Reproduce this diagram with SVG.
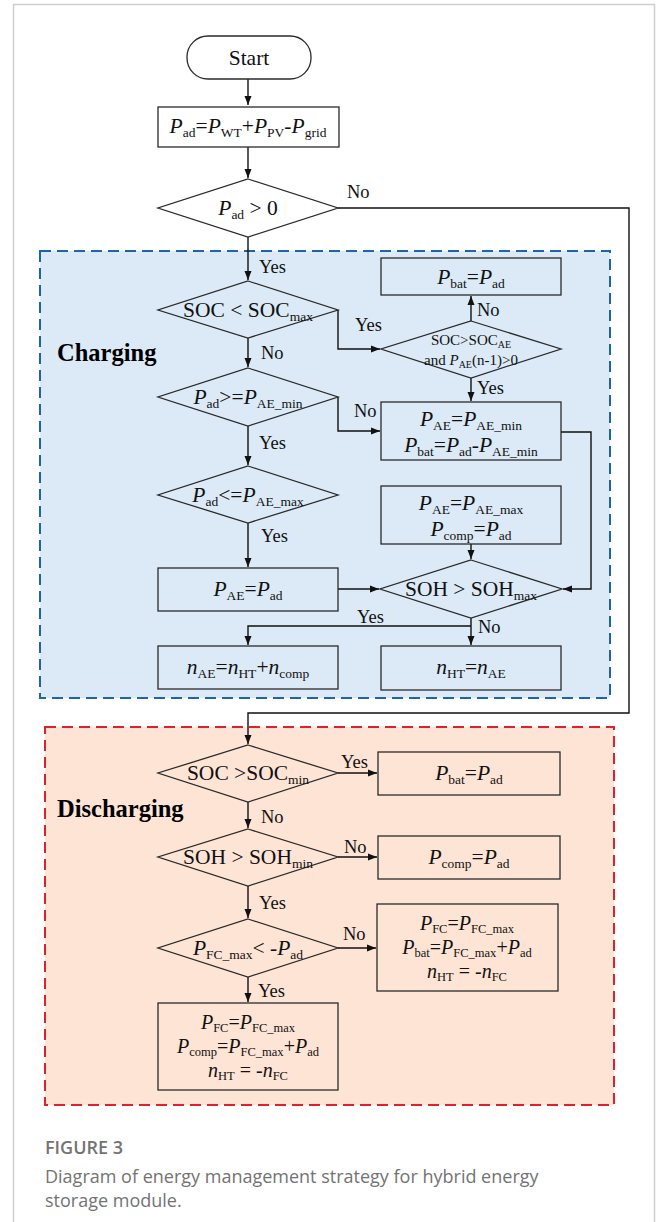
<svg xmlns="http://www.w3.org/2000/svg" width="656" height="1222" viewBox="0 0 656 1222">
<defs>
<style>
.n{fill:none;stroke:#2a2a2a;stroke-width:1.3}
.c{fill:none;stroke:#111;stroke-width:1.4}
.m{font-family:"Liberation Serif","Times New Roman",serif;font-size:21.5px;fill:#111;text-anchor:middle}
.m3{font-family:"Liberation Serif","Times New Roman",serif;font-size:20px;fill:#111;text-anchor:middle}
.sm{font-family:"Liberation Serif","Times New Roman",serif;font-size:15px;fill:#111;text-anchor:middle}
.lb{font-family:"Liberation Serif","Times New Roman",serif;font-size:18.5px;fill:#111}
.i{font-style:italic}
.s{font-size:13.5px}
.s3{font-size:12.5px}
.ss{font-size:10px}
.h{font-family:"Liberation Serif","Times New Roman",serif;font-size:24.5px;font-weight:bold;fill:#000}
.cap{font-family:"Open Sans","Noto Sans",sans-serif;fill:#737373}
</style>
<marker id="a" markerWidth="10" markerHeight="8" refX="9" refY="4" orient="auto" markerUnits="userSpaceOnUse">
<path d="M0,0.5 L9,4 L0,7.5 Z" fill="#111"/>
</marker>
</defs>
<rect x="0" y="0" width="656" height="1222" fill="#fff"/>
<rect x="13.5" y="4.5" width="641" height="1230" fill="none" stroke="#cfcfcf" stroke-width="1.5"/>

<g id="region-charging">
<rect x="40" y="251" width="570" height="447" fill="#dbeaf6" stroke="#1f63a8" stroke-width="2" stroke-dasharray="11,6"/>
<text class="h" x="57" y="361">Charging</text>
</g>
<g id="region-discharging">
<rect x="45" y="727" width="569" height="378" fill="#fde4d5" stroke="#e0202a" stroke-width="2" stroke-dasharray="11,6"/>
<text class="h" x="57" y="817">Discharging</text>
</g>

<g id="connectors">
<path class="c" d="M248,79 V105" marker-end="url(#a)"/>
<path class="c" d="M248,147 V178" marker-end="url(#a)"/>
<path class="c" d="M248,237 V280" marker-end="url(#a)"/>
<path class="c" d="M338,208 H629 V713 H248 V744" marker-end="url(#a)"/>
<path class="c" d="M338,310 V349 H380" marker-end="url(#a)"/>
<path class="c" d="M248,338 V367" marker-end="url(#a)"/>
<path class="c" d="M471,321 V296" marker-end="url(#a)"/>
<path class="c" d="M471,378 V401" marker-end="url(#a)"/>
<path class="c" d="M338,397 V431 H380" marker-end="url(#a)"/>
<path class="c" d="M248,426 V465" marker-end="url(#a)"/>
<path class="c" d="M561,432 H591 V589 H563" marker-end="url(#a)"/>
<path class="c" d="M248,523 V567" marker-end="url(#a)"/>
<path class="c" d="M338,589 H379" marker-end="url(#a)"/>
<path class="c" d="M471,544 V559" marker-end="url(#a)"/>
<path class="c" d="M471,618 V645" marker-end="url(#a)"/>
<path class="c" d="M471,626 H248 V645" marker-end="url(#a)"/>
<path class="c" d="M338,773 H377" marker-end="url(#a)"/>
<path class="c" d="M248,802 V828" marker-end="url(#a)"/>
<path class="c" d="M338,857 H377" marker-end="url(#a)"/>
<path class="c" d="M248,886 V918" marker-end="url(#a)"/>
<path class="c" d="M338,948 H376" marker-end="url(#a)"/>
<path class="c" d="M248,977 V1002" marker-end="url(#a)"/>
<text class="lb" x="347" y="198">No</text>
<text class="lb" x="259" y="273">Yes</text>
<text class="lb" x="355" y="331">Yes</text>
<text class="lb" x="261" y="359">No</text>
<text class="lb" x="477" y="316">No</text>
<text class="lb" x="477" y="394">Yes</text>
<text class="lb" x="354" y="417">No</text>
<text class="lb" x="259" y="449">Yes</text>
<text class="lb" x="261" y="542">Yes</text>
<text class="lb" x="357" y="623">Yes</text>
<text class="lb" x="478" y="633">No</text>
<text class="lb" x="341" y="768">Yes</text>
<text class="lb" x="261" y="823">No</text>
<text class="lb" x="344" y="853">No</text>
<text class="lb" x="259" y="909">Yes</text>
<text class="lb" x="343" y="940">No</text>
<text class="lb" x="258" y="997">Yes</text>
</g>

<g id="start">
<rect class="n" x="187" y="36" width="124" height="43" rx="21" ry="21"/>
<text class="m" x="249" y="65">Start</text>
</g>
<g id="calc-pad">
<rect class="n" x="158" y="107" width="181" height="40"/>
<text class="m" x="248" y="133"><tspan class="i">P</tspan><tspan class="s" dy="4">ad</tspan><tspan dy="-4">=</tspan><tspan class="i">P</tspan><tspan class="s" dy="4">WT</tspan><tspan dy="-4">+</tspan><tspan class="i">P</tspan><tspan class="s" dy="4">PV</tspan><tspan dy="-4">-</tspan><tspan class="i">P</tspan><tspan class="s" dy="4">grid</tspan></text>
</g>
<g id="dec-pad">
<path class="n" d="M248,179 L338,208 L248,237 L158,208 Z"/>
<text class="m" x="248" y="215"><tspan class="i">P</tspan><tspan class="s" dy="4">ad</tspan><tspan dy="-4"> &gt; 0</tspan></text>
</g>
<g id="dec-soc-max">
<path class="n" d="M248,281 L338,310 L248,338 L158,310 Z"/>
<text class="m" x="248" y="317">SOC &lt; SOC<tspan class="s" dy="4">max</tspan></text>
</g>
<g id="box-pbat1">
<rect class="n" x="381" y="258" width="180" height="37"/>
<text class="m" x="471" y="284"><tspan class="i">P</tspan><tspan class="s" dy="4">bat</tspan><tspan dy="-4">=</tspan><tspan class="i">P</tspan><tspan class="s" dy="4">ad</tspan></text>
</g>
<g id="dec-soc-ae">
<path class="n" d="M471,321 L561,349 L471,378 L381,349 Z"/>
<text class="sm" x="471" y="345">SOC&gt;SOC<tspan class="ss" dy="3">AE</tspan></text>
<text class="sm" x="471" y="365">and <tspan class="i">P</tspan><tspan class="ss" dy="3">AE</tspan><tspan dy="-3">(n-1)&gt;0</tspan></text>
</g>
<g id="box-ae-min">
<rect class="n" x="381" y="402" width="180" height="58"/>
<text class="m" x="471" y="426"><tspan class="i">P</tspan><tspan class="s" dy="4">AE</tspan><tspan dy="-4">=</tspan><tspan class="i">P</tspan><tspan class="s" dy="4">AE_min</tspan></text>
<text class="m" x="471" y="452"><tspan class="i">P</tspan><tspan class="s" dy="4">bat</tspan><tspan dy="-4">=</tspan><tspan class="i">P</tspan><tspan class="s" dy="4">ad</tspan><tspan dy="-4">-</tspan><tspan class="i">P</tspan><tspan class="s" dy="4">AE_min</tspan></text>
</g>
<g id="dec-ae-min">
<path class="n" d="M248,368 L338,397 L248,426 L158,397 Z"/>
<text class="m" x="248" y="404"><tspan class="i">P</tspan><tspan class="s" dy="4">ad</tspan><tspan dy="-4">&gt;=</tspan><tspan class="i">P</tspan><tspan class="s" dy="4">AE_min</tspan></text>
</g>
<g id="dec-ae-max">
<path class="n" d="M248,466 L338,495 L248,523 L158,495 Z"/>
<text class="m" x="248" y="502"><tspan class="i">P</tspan><tspan class="s" dy="4">ad</tspan><tspan dy="-4">&lt;=</tspan><tspan class="i">P</tspan><tspan class="s" dy="4">AE_max</tspan></text>
</g>
<g id="box-ae-max">
<rect class="n" x="381" y="486" width="180" height="58"/>
<text class="m" x="471" y="510"><tspan class="i">P</tspan><tspan class="s" dy="4">AE</tspan><tspan dy="-4">=</tspan><tspan class="i">P</tspan><tspan class="s" dy="4">AE_max</tspan></text>
<text class="m" x="471" y="536"><tspan class="i">P</tspan><tspan class="s" dy="4">comp</tspan><tspan dy="-4">=</tspan><tspan class="i">P</tspan><tspan class="s" dy="4">ad</tspan></text>
</g>
<g id="box-ae-pad">
<rect class="n" x="158" y="568" width="180" height="43"/>
<text class="m" x="248" y="596"><tspan class="i">P</tspan><tspan class="s" dy="4">AE</tspan><tspan dy="-4">=</tspan><tspan class="i">P</tspan><tspan class="s" dy="4">ad</tspan></text>
</g>
<g id="dec-soh-max">
<path class="n" d="M471,560 L562,589 L471,618 L380,589 Z"/>
<text class="m" x="471" y="596">SOH &gt; SOH<tspan class="s" dy="4">max</tspan></text>
</g>
<g id="box-nae">
<rect class="n" x="158" y="646" width="180" height="43"/>
<text class="m" x="248" y="674"><tspan class="i">n</tspan><tspan class="s" dy="4">AE</tspan><tspan dy="-4">=</tspan><tspan class="i">n</tspan><tspan class="s" dy="4">HT</tspan><tspan dy="-4">+</tspan><tspan class="i">n</tspan><tspan class="s" dy="4">comp</tspan></text>
</g>
<g id="box-nht">
<rect class="n" x="381" y="646" width="180" height="44"/>
<text class="m" x="471" y="674"><tspan class="i">n</tspan><tspan class="s" dy="4">HT</tspan><tspan dy="-4">=</tspan><tspan class="i">n</tspan><tspan class="s" dy="4">AE</tspan></text>
</g>

<g id="dec-soc-min">
<path class="n" d="M248,745 L338,773 L248,802 L158,773 Z"/>
<text class="m" x="248" y="780">SOC &gt;SOC<tspan class="s" dy="4">min</tspan></text>
</g>
<g id="box-pbat2">
<rect class="n" x="378" y="752" width="182" height="43"/>
<text class="m" x="469" y="780"><tspan class="i">P</tspan><tspan class="s" dy="4">bat</tspan><tspan dy="-4">=</tspan><tspan class="i">P</tspan><tspan class="s" dy="4">ad</tspan></text>
</g>
<g id="dec-soh-min">
<path class="n" d="M248,829 L338,857 L248,886 L158,857 Z"/>
<text class="m" x="248" y="864">SOH &gt; SOH<tspan class="s" dy="4">min</tspan></text>
</g>
<g id="box-pcomp">
<rect class="n" x="378" y="836" width="182" height="43"/>
<text class="m" x="469" y="864"><tspan class="i">P</tspan><tspan class="s" dy="4">comp</tspan><tspan dy="-4">=</tspan><tspan class="i">P</tspan><tspan class="s" dy="4">ad</tspan></text>
</g>
<g id="dec-fc">
<path class="n" d="M248,919 L338,948 L248,977 L158,948 Z"/>
<text class="m" x="248" y="955"><tspan class="i">P</tspan><tspan class="s" dy="4">FC_max</tspan><tspan dy="-4">&lt; -</tspan><tspan class="i">P</tspan><tspan class="s" dy="4">ad</tspan></text>
</g>
<g id="box-fc-no">
<rect class="n" x="377" y="904" width="181" height="87"/>
<text class="m3" x="467" y="930"><tspan class="i">P</tspan><tspan class="s3" dy="3">FC</tspan><tspan dy="-3">=</tspan><tspan class="i">P</tspan><tspan class="s3" dy="3">FC_max</tspan></text>
<text class="m3" x="467" y="954"><tspan class="i">P</tspan><tspan class="s3" dy="3">bat</tspan><tspan dy="-3">=</tspan><tspan class="i">P</tspan><tspan class="s3" dy="3">FC_max</tspan><tspan dy="-3">+</tspan><tspan class="i">P</tspan><tspan class="s3" dy="3">ad</tspan></text>
<text class="m3" x="467" y="978"><tspan class="i">n</tspan><tspan class="s3" dy="3">HT</tspan><tspan dy="-3"> = -</tspan><tspan class="i">n</tspan><tspan class="s3" dy="3">FC</tspan></text>
</g>
<g id="box-fc-yes">
<rect class="n" x="158" y="1003" width="180" height="87"/>
<text class="m3" x="248" y="1029"><tspan class="i">P</tspan><tspan class="s3" dy="3">FC</tspan><tspan dy="-3">=</tspan><tspan class="i">P</tspan><tspan class="s3" dy="3">FC_max</tspan></text>
<text class="m3" x="248" y="1053"><tspan class="i">P</tspan><tspan class="s3" dy="3">comp</tspan><tspan dy="-3">=</tspan><tspan class="i">P</tspan><tspan class="s3" dy="3">FC_max</tspan><tspan dy="-3">+</tspan><tspan class="i">P</tspan><tspan class="s3" dy="3">ad</tspan></text>
<text class="m3" x="248" y="1077"><tspan class="i">n</tspan><tspan class="s3" dy="3">HT</tspan><tspan dy="-3"> = -</tspan><tspan class="i">n</tspan><tspan class="s3" dy="3">FC</tspan></text>
</g>

<g id="caption">
<text class="cap" x="45" y="1154" font-size="18" font-weight="600">FIGURE 3</text>
<text class="cap" x="45" y="1183" font-size="18">Diagram of energy management strategy for hybrid energy</text>
<text class="cap" x="45" y="1207" font-size="18">storage module.</text>
</g>
</svg>
